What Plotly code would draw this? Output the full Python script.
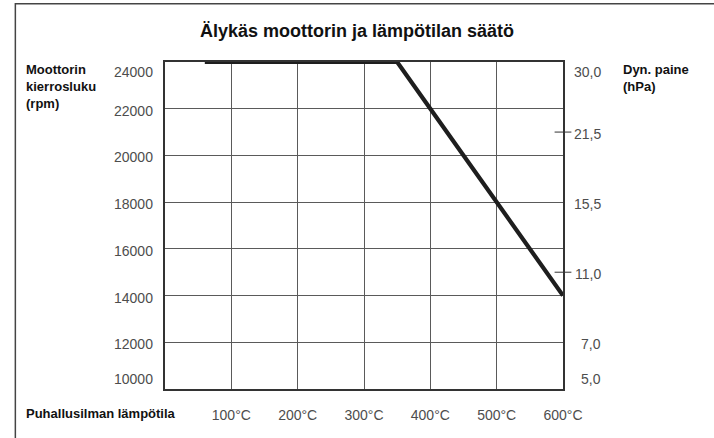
import plotly.graph_objects as go

# Fan speed curve versus blow-out air temperature
temp_c = [60, 350, 400, 500, 600]
rpm = [24000, 24000, 22000, 18000, 14000]

x_ticks = [100, 200, 300, 400, 500, 600]
x_tick_labels = ["100°C", "200°C", "300°C", "400°C", "500°C", "600°C"]

rpm_ticks = [10000, 12000, 14000, 16000, 18000, 20000, 22000, 24000]
rpm_tick_labels = ["10000", "12000", "14000", "16000", "18000", "20000", "22000", "24000"]

# Dynamic pressure scale, placed at the matching rpm levels
pressure_levels = [10000, 12000, 15000, 18000, 21000, 24000]
pressure_labels = ["5,0", "7,0", "11,0", "15,5", "21,5", "30,0"]

RPM_MIN, RPM_MAX, GRID_STEP = 10000, 24000, 2000
FONT = "Liberation Sans"
TEXT_GREY = "#4d4d4d"
FRAME = "#333333"
GRID = "#5a5a5a"

fig = go.Figure()

fig.add_trace(go.Scatter(
    x=temp_c, y=rpm, mode="lines",
    line=dict(color="#1e1e1e", width=4.2),
    hoverinfo="skip", showlegend=False,
))

# small crossing ticks for pressure values that fall between grid lines
tick_levels = [v for v in pressure_levels if v % GRID_STEP]
fig.add_trace(go.Scatter(
    x=[x_ticks[-1]] * len(tick_levels), y=tick_levels, mode="markers",
    marker=dict(symbol="line-ew", size=12, line=dict(color=FRAME, width=1)),
    cliponaxis=False, hoverinfo="skip", showlegend=False,
))


def anchor_for(v):
    if v == RPM_MAX:
        return "top", 0
    if v == RPM_MIN:
        return "bottom", 0
    return "middle", -2


annotations = []
for v, t in zip(rpm_ticks, rpm_tick_labels):
    ya, ys = anchor_for(v)
    annotations.append(dict(
        x=0, xref="paper", y=v, yref="y", text=t, showarrow=False,
        xanchor="right", yanchor=ya, yshift=ys, xshift=-10,
        font=dict(family=FONT, size=14, color=TEXT_GREY),
    ))
for v, t in zip(pressure_levels, pressure_labels):
    ya, ys = anchor_for(v)
    annotations.append(dict(
        x=1, xref="paper", y=v, yref="y", text=t, showarrow=False,
        xanchor="right", yanchor=ya, yshift=ys, xshift=40,
        font=dict(family=FONT, size=14, color=TEXT_GREY),
    ))

bold = dict(family=FONT, size=13, color="#111111")
annotations += [
    dict(x=0, xref="paper", y=1, yref="paper", xshift=-141, yshift=2,
         text="<b>Moottorin<br>kierrosluku<br>(rpm)</b>", showarrow=False,
         xanchor="left", yanchor="top", align="left", font=bold),
    dict(x=1, xref="paper", y=1, yref="paper", xshift=58, yshift=2,
         text="<b>Dyn. paine<br>(hPa)</b>", showarrow=False,
         xanchor="left", yanchor="top", align="left", font=bold),
    dict(x=0, xref="paper", y=0, yref="paper", xshift=-141, yshift=-24,
         text="<b>Puhallusilman lämpötila</b>", showarrow=False,
         xanchor="left", yanchor="middle", align="left", font=bold),
]

fig.update_layout(
    width=714, height=438,
    margin=dict(l=165, r=151, t=62, b=49),
    paper_bgcolor="white", plot_bgcolor="white",
    title=dict(text="<b>Älykäs moottorin ja lämpötilan säätö</b>",
               x=0.5, xref="container", xanchor="center",
               y=1 - 31 / 438, yref="container", yanchor="middle",
               font=dict(family=FONT, size=18, color="#111111")),
    xaxis=dict(range=[0, 600], tickvals=x_ticks, ticktext=x_tick_labels,
               showgrid=True, gridcolor=GRID, gridwidth=1,
               showline=True, mirror=True, linecolor=FRAME, linewidth=1.5,
               ticks="", ticklabelstandoff=12, zeroline=False,
               tickfont=dict(family=FONT, size=14, color=TEXT_GREY)),
    yaxis=dict(range=[RPM_MIN, RPM_MAX], dtick=GRID_STEP, tick0=RPM_MIN,
               showgrid=True, gridcolor=GRID, gridwidth=1,
               showline=True, mirror=True, linecolor=FRAME, linewidth=1.5,
               ticks="", showticklabels=False, zeroline=False),
    annotations=annotations,
    shapes=[dict(type="rect", xref="paper", yref="paper",
                 x0=-0.376, x1=1.6, y0=-0.4, y1=1.178,
                 line=dict(color="#444444", width=1.5), layer="below")],
)

fig.write_html("out.html")
